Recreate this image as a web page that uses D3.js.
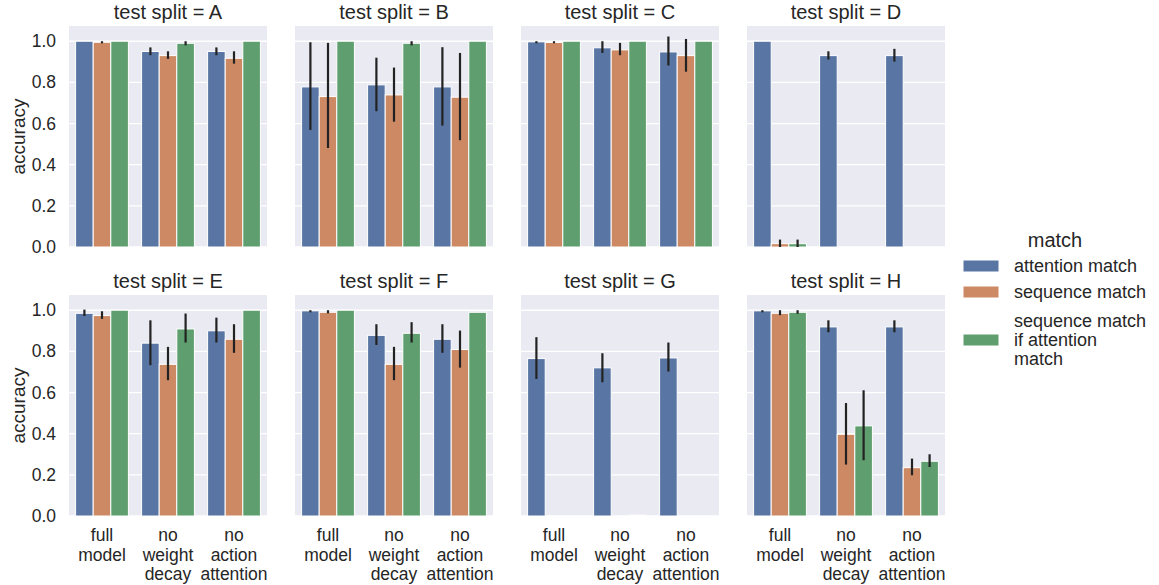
<!DOCTYPE html>
<html>
<head>
<meta charset="utf-8">
<script src="https://cdn.jsdelivr.net/npm/d3@7"></script>
<style>
  html, body { margin: 0; padding: 0; background: #ffffff; }
  svg { display: block; font-family: "Liberation Sans", Arial, sans-serif; }
</style>
</head>
<body>
<svg id="chart" width="1159" height="585"></svg>
<script>
// ---- data ----
const splits = ["A", "B", "C", "D", "E", "F", "G", "H"];
const models = ["full model", "no weight decay", "no action attention"];
const modelLabels = [["full", "model"], ["no", "weight", "decay"], ["no", "action", "attention"]];
const hues = ["attention match", "sequence match", "sequence match if attention match"];
const legendLabels = [["attention match"], ["sequence match"], ["sequence match", "if attention", "match"]];
const yTicks = [0.0, 0.2, 0.4, 0.6, 0.8, 1.0];

// mean per split (rows) x model (cols)
const attentionMean = [
  [1.0, 0.95, 0.95],
  [0.778, 0.788, 0.778],
  [0.997, 0.968, 0.948],
  [1.0, 0.93, 0.93],
  [0.985, 0.84, 0.9],
  [0.997, 0.878, 0.859],
  [0.765, 0.72, 0.768],
  [0.997, 0.919, 0.919]
];
const attentionCI = [
  [[1, 1], [0.932, 0.97], [0.932, 0.97]],
  [[0.569, 0.995], [0.66, 0.92], [0.59, 0.971]],
  [[0.99, 1.0], [0.943, 1.0], [0.882, 1.023]],
  [[1, 1], [0.911, 0.951], [0.901, 0.963]],
  [[0.972, 1.003], [0.733, 0.951], [0.843, 0.964]],
  [[0.99, 1.0], [0.831, 0.932], [0.793, 0.932]],
  [[0.666, 0.869], [0.65, 0.791], [0.702, 0.843]],
  [[0.99, 1.0], [0.893, 0.951], [0.893, 0.951]]
];
const sequenceMean = [
  [0.995, 0.93, 0.917],
  [0.731, 0.739, 0.728],
  [0.994, 0.958, 0.93],
  [0.016, 0, 0],
  [0.974, 0.737, 0.859],
  [0.99, 0.737, 0.809],
  [0, 0, 0],
  [0.985, 0.397, 0.235]
];
const sequenceCI = [
  [[0.99, 1.0], [0.914, 0.951], [0.891, 0.951]],
  [[0.481, 0.992], [0.609, 0.872], [0.519, 0.943]],
  [[0.99, 1.0], [0.932, 0.992], [0.852, 1.011]],
  [[0, 0.036], [0, 0], [0, 0]],
  [[0.958, 0.995], [0.66, 0.822], [0.793, 0.932]],
  [[0.985, 1.0], [0.66, 0.822], [0.721, 0.901]],
  [[0, 0], [0, 0], [0, 0]],
  [[0.976, 1.0], [0.25, 0.549], [0.198, 0.279]]
];
const seqIfAttMean = [
  [1.0, 0.99, 1.0],
  [1.0, 0.99, 1.0],
  [1.0, 1.0, 1.0],
  [0.016, 0, 0],
  [1.0, 0.909, 1.0],
  [1.0, 0.888, 0.99],
  [0, 0.004, 0],
  [0.99, 0.438, 0.266]
];
const seqIfAttCI = [
  [[1, 1], [0.98, 1.0], [1, 1]],
  [[1, 1], [0.98, 1.0], [1, 1]],
  [[1, 1], [1, 1], [1, 1]],
  [[0, 0.036], [0, 0], [0, 0]],
  [[1, 1], [0.843, 0.984], [1, 1]],
  [[1, 1], [0.843, 0.942], [0.99, 0.99]],
  [[0, 0], [0.004, 0.004], [0, 0]],
  [[0.983, 1.0], [0.271, 0.611], [0.238, 0.3]]
];

// ---- build ----
const means = [attentionMean, sequenceMean, seqIfAttMean];
const cis = [attentionCI, sequenceCI, seqIfAttCI];
const colors = ["#5975a4", "#cc8963", "#5f9e6e"];
const textColor = "#262626";

const svg = d3.select("#chart");
const panelW = 198, panelH = 221;
const colX = [69, 295, 521, 747];
const rowY = [26, 295];

const y = d3.scaleLinear().domain([0, 1.074]).range([panelH, 0]);
const x = d3.scaleBand().domain(models).range([0, panelW]).paddingInner(0.2).paddingOuter(0.1);
const xh = d3.scaleBand().domain(hues).range([0, x.bandwidth()]);
const color = d3.scaleOrdinal().domain(hues).range(colors);

splits.forEach((s, si) => {
  const r = Math.floor(si / 4), c = si % 4;
  const g = svg.append("g").attr("transform", `translate(${colX[c]},${rowY[r]})`);
  g.append("rect").attr("width", panelW).attr("height", panelH).attr("fill", "#eaeaf2");

  // grid
  g.selectAll("line.grid").data(yTicks).join("line")
    .attr("x1", 0).attr("x2", panelW)
    .attr("y1", d => y(d)).attr("y2", d => y(d))
    .attr("stroke", "#ffffff").attr("stroke-width", 1.3);

  // title
  g.append("text").attr("x", panelW / 2).attr("y", -7)
    .attr("text-anchor", "middle").attr("font-size", 20).attr("fill", textColor)
    .text(`test split = ${s}`);

  // bars
  const rows = [];
  hues.forEach((h, hi) => {
    models.forEach((m, mi) => {
      rows.push({ h, m, v: means[hi][si][mi], lo: cis[hi][si][mi][0], hi: cis[hi][si][mi][1] });
    });
  });
  g.selectAll("rect.bar").data(rows).join("rect")
    .attr("x", d => x(d.m) + xh(d.h))
    .attr("y", d => y(d.v))
    .attr("width", xh.bandwidth())
    .attr("height", d => y(0) - y(d.v))
    .attr("fill", d => color(d.h))
    .attr("stroke", "#ffffff").attr("stroke-width", 1);

  g.selectAll("line.err").data(rows).join("line")
    .attr("x1", d => x(d.m) + xh(d.h) + xh.bandwidth() / 2)
    .attr("x2", d => x(d.m) + xh(d.h) + xh.bandwidth() / 2)
    .attr("y1", d => y(d.lo)).attr("y2", d => y(d.hi))
    .attr("stroke", "#222222").attr("stroke-width", 2.2);

  // y axis labels
  if (c === 0) {
    const ax = d3.axisLeft(y).tickValues(yTicks).tickFormat(d3.format(".1f")).tickSize(0).tickPadding(13);
    const ag = g.append("g").call(ax);
    ag.select(".domain").remove();
    ag.selectAll("text").attr("font-size", 17.5).attr("fill", textColor)
      .attr("font-family", "Liberation Sans, Arial, sans-serif");
    g.append("text")
      .attr("transform", `translate(${18 - colX[c]},${panelH / 2}) rotate(-90)`)
      .attr("text-anchor", "middle").attr("dominant-baseline", "central")
      .attr("font-size", 19).attr("fill", textColor).text("accuracy");
  }
  // x labels
  if (r === 1) {
    models.forEach((m, mi) => {
      const t = g.append("text").attr("text-anchor", "middle")
        .attr("font-size", 17.5).attr("fill", textColor);
      modelLabels[mi].forEach((ln, li) => {
        t.append("tspan").attr("x", x(m) + x.bandwidth() / 2)
          .attr("y", panelH + 25 + li * 19.7).text(ln);
      });
    });
  }
});

// legend
const lg = svg.append("g");
lg.append("text").attr("x", 1055).attr("y", 247).attr("text-anchor", "middle")
  .attr("font-size", 20).attr("fill", textColor).text("match");
const patchY = [266, 292, 340];
hues.forEach((h, hi) => {
  lg.append("rect").attr("x", 963).attr("y", patchY[hi] - 6).attr("width", 36).attr("height", 12)
    .attr("fill", color(h)).attr("stroke", "#ffffff").attr("stroke-width", 1);
  const n = legendLabels[hi].length;
  const t = lg.append("text").attr("font-size", 18).attr("fill", textColor);
  legendLabels[hi].forEach((ln, li) => {
    t.append("tspan").attr("x", 1014)
      .attr("y", patchY[hi] + (li - (n - 1) / 2) * 19 + 6).text(ln);
  });
});
</script>
</body>
</html>
